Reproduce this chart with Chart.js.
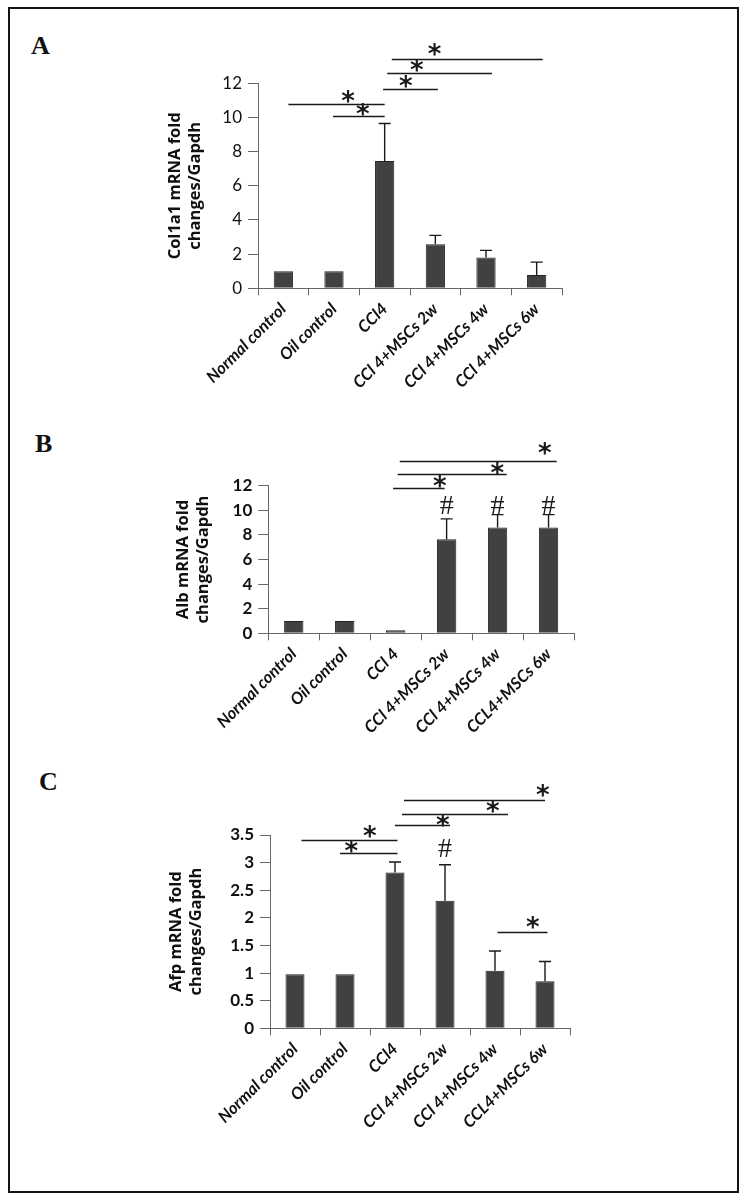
<!DOCTYPE html>
<html><head><meta charset="utf-8">
<script src="https://cdn.jsdelivr.net/npm/chart.js@4/dist/chart.umd.min.js"></script>
<style>
html,body{margin:0;padding:0;background:#fff;}
#page{position:relative;width:745px;height:1199px;overflow:hidden;background:#fff;}
.frame{position:absolute;left:8px;top:7px;width:727px;height:1182px;border:2px solid #151515;}
.plabel{position:absolute;font-family:"Liberation Serif","Times New Roman",serif;font-weight:bold;font-size:26px;line-height:26px;color:#111;}
.wrap{position:absolute;left:0;width:745px;}
canvas{display:block;}
</style></head>
<body><div id="page">
<div class="frame"></div>
<div class="plabel" style="left:31px;top:33px">A</div>
<div class="plabel" style="left:35px;top:431px">B</div>
<div class="plabel" style="left:39px;top:769px">C</div>
<div class="wrap" style="top:0;height:400px"><canvas id="cA" width="745" height="400"></canvas></div>
<div class="wrap" style="top:400px;height:370px"><canvas id="cB" width="745" height="370"></canvas></div>
<div class="wrap" style="top:770px;height:429px"><canvas id="cC" width="745" height="429"></canvas></div>
</div>
<script>
// ---------- data ----------
const labelsA = ["Normal control","Oil control","CCl4","CCl 4+MSCs 2w","CCl 4+MSCs 4w","CCl 4+MSCs 6w"];
const labelsB = ["Normal control","Oil control","CCl 4","CCl 4+MSCs 2w","CCl 4+MSCs 4w","CCL4+MSCs 6w"];
const labelsC = ["Normal control","Oil control","CCl4","CCl 4+MSCs 2w","CCl 4+MSCs 4w","CCL4+MSCs 6w"];

const meanA = [1.0, 1.0, 7.45, 2.58, 1.80, 0.78];
const errA  = [0, 0, 2.20, 0.52, 0.42, 0.75];
const meanB = [1.0, 1.0, 0.25, 7.65, 8.60, 8.60];
const errB  = [0, 0, 0, 1.65, 1.05, 1.05];
const meanC = [0.98, 0.98, 2.82, 2.31, 1.04, 0.85];
const errC  = [0, 0, 0.19, 0.65, 0.36, 0.36];

const yTicksA = [0, 2, 4, 6, 8, 10, 12];
const yTicksB = [0, 2, 4, 6, 8, 10, 12];
const yTicksC = [0, 0.5, 1, 1.5, 2, 2.5, 3, 3.5];

const yTitleA = ["Col1a1 mRNA fold", "changes/Gapdh"];
const yTitleB = ["Alb mRNA fold", "changes/Gapdh"];
const yTitleC = ["Afp mRNA fold", "changes/Gapdh"];

// significance brackets: [fromCategory, toCategory, yValue, starCategory, starY]
const sigA = [[0.1,2.0,10.78,1.28,11.2],[0.98,2.0,10.08,1.57,10.49],[1.97,3.05,11.65,2.42,12.08],[2.05,4.12,12.6,2.64,13.07],[2.14,5.12,13.4,2.99,13.95]];
const sigB = [[1.95,2.96,11.79,2.87,12.33],[2.04,4.18,12.93,4.0,13.41],[2.08,5.16,14.03,4.93,15.04]];
const sigC = [[0.13,2.05,3.41,1.5,3.56],[0.9,2.05,3.17,1.13,3.29],[2.0,3.1,3.68,2.96,3.77],[2.14,4.26,3.88,3.96,4.01],[2.18,5.0,4.13,4.96,4.31],[4.05,5.05,1.74,4.76,1.91]];

// "#" markers: [category, yValue]
const hashA = [];
const hashB = [[3,10.43],[4,10.43],[5,10.43]];
const hashC = [[3,3.26]];

// ---------- drawing ----------
const extras = {};
const INK = '#1a1a1a';

function drawCentered(ctx, txt, cx, cy) {
  ctx.textAlign = 'left';
  ctx.textBaseline = 'alphabetic';
  const m = ctx.measureText(txt);
  const dx = (m.actualBoundingBoxRight - m.actualBoundingBoxLeft) / 2;
  const dy = (m.actualBoundingBoxAscent - m.actualBoundingBoxDescent) / 2;
  ctx.fillText(txt, cx - dx, cy + dy);
}

const annot = {
  id: 'annot',
  afterDatasetsDraw(chart) {
    const e = extras[chart.canvas.id];
    const {ctx} = chart;
    const y = chart.scales.y;
    const meta = chart.getDatasetMeta(0);
    ctx.save();
    ctx.strokeStyle = INK;
    ctx.lineWidth = 1.4;
    e.mean.forEach((v, i) => {
      if (!e.err[i]) return;
      const px = meta.data[i].x;
      const y0 = y.getPixelForValue(v);
      const y1 = y.getPixelForValue(v + e.err[i]);
      ctx.beginPath();
      ctx.moveTo(px, y0); ctx.lineTo(px, y1);
      ctx.moveTo(px - 6, y1); ctx.lineTo(px + 6, y1);
      ctx.stroke();
    });
    ctx.restore();
  },
  afterDraw(chart) {
    const e = extras[chart.canvas.id];
    const {ctx} = chart;
    const x = chart.scales.x, y = chart.scales.y;
    ctx.save();
    ctx.strokeStyle = INK;
    ctx.fillStyle = INK;
    ctx.lineWidth = 1.4;
    e.sig.forEach(s => {
      const yy = Math.round(y.getPixelForValue(s[2])) + 0.5;
      ctx.beginPath();
      ctx.moveTo(x.getPixelForValue(s[0]), yy);
      ctx.lineTo(x.getPixelForValue(s[1]), yy);
      ctx.stroke();
    });
    ctx.font = 'bold 26px "DejaVu Sans"';
    e.sig.forEach(s => drawCentered(ctx, '*', x.getPixelForValue(s[3]), y.getPixelForValue(s[4])));
    ctx.font = '28px "Liberation Serif"';
    e.hash.forEach(h => drawCentered(ctx, '#', x.getPixelForValue(h[0]), y.getPixelForValue(h[1])));
    ctx.restore();
  }
};

function build(id, labels, mean, err, ticks, title, sig, hash, g) {
  extras[id] = {mean, err, sig, hash};
  return new Chart(document.getElementById(id), {
    type: 'bar',
    data: {labels, datasets: [{data: mean, backgroundColor: '#414141', borderColor: '#222', borderWidth: 1, barPercentage: 0.38, categoryPercentage: 1}]},
    options: {
      responsive: false, animation: false, devicePixelRatio: 1,
      layout: {padding: {top: g.top, right: g.right, left: 0, bottom: 0}},
      plugins: {legend: {display: false}, tooltip: {enabled: false}},
      scales: {
        x: {
          offset: true,
          grid: {offset: true, drawOnChartArea: false, tickLength: 7, color: '#666', lineWidth: 1},
          border: {color: '#666', width: 1},
          ticks: {minRotation: 45, maxRotation: 45, autoSkip: false, padding: 4, color: '#111',
                  font: {family: 'Lato', weight: 'bold', style: 'italic', size: 16.5}},
          afterFit(s) { s.height = g.xh; }
        },
        y: {
          min: 0, max: ticks[ticks.length - 1],
          afterBuildTicks(s) { s.ticks = ticks.map(v => ({value: v})); },
          ticks: {padding: 6, color: '#111', callback: v => String(v),
                  font: {family: 'Lato', weight: g.tickWeight, size: 17}},
          grid: {drawOnChartArea: false, tickLength: 10, color: '#666'},
          border: {color: '#666', width: 1},
          title: {display: true, text: title, color: '#111', padding: {top: g.titlePad, bottom: 0},
                  font: {family: 'Open Sans', weight: 'bold', size: 16.5, lineHeight: 1.22}},
          afterFit(s) { s.width = g.left; }
        }
      }
    },
    plugins: [annot]
  });
}

build('cA', labelsA, meanA, errA, yTicksA, yTitleA, sigA, hashA,
      {top: 83.3, right: 183, xh: 111.7, left: 258, tickWeight: 'normal', titlePad: 165});
build('cB', labelsB, meanB, errB, yTicksB, yTitleB, sigB, hashB,
      {top: 85.7, right: 171, xh: 136.7, left: 268.3, tickWeight: 'bold', titlePad: 173});
build('cC', labelsC, meanC, errC, yTicksC, yTitleC, sigC, hashC,
      {top: 65, right: 175, xh: 170.7, left: 270, tickWeight: 'bold', titlePad: 166});
</script>
</body></html>
